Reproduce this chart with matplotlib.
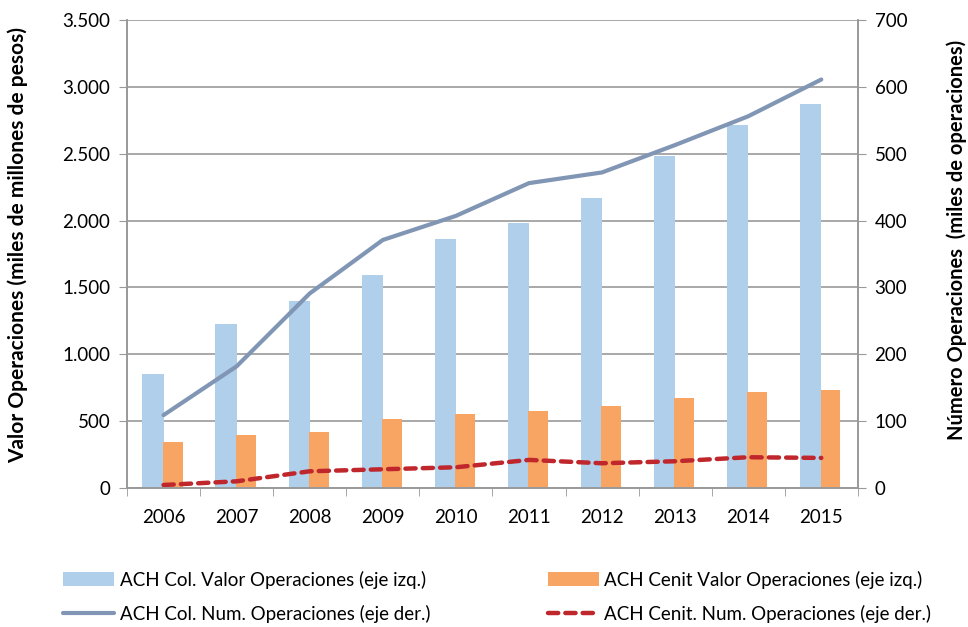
import matplotlib.pyplot as plt
import matplotlib.ticker as mticker
import numpy as np

plt.rcParams["font.family"] = ["Lato", "DejaVu Sans"]

years = ["2006", "2007", "2008", "2009", "2010", "2011", "2012", "2013", "2014", "2015"]
col_valor = [850, 1225, 1400, 1590, 1865, 1980, 2167, 2481, 2713, 2870]
cenit_valor = [344, 396, 419, 516, 553, 575, 613, 673, 717, 732]
col_num = [109, 182, 291, 371, 407, 456, 472, 513, 556, 611]
cenit_num = [4.5, 10, 25, 28, 31, 42, 37, 40, 46, 45]

blue = "#afcfea"
orange = "#f8a462"
grey_line = "#8196b4"
red = "#c0272d"
grid_c = "#999999"


def thousands(v, pos):
    return f"{int(v):,}".replace(",", ".")


fig = plt.figure(figsize=(9.68, 6.27), dpi=100)
ax = fig.add_axes([0.1312, 0.2217, 0.7550, 0.7464])
ax2 = ax.twinx()

x = np.arange(len(years))
w = 0.29
b1 = ax.bar(x - w / 2, col_valor, width=w, color=blue, zorder=2)
b2 = ax.bar(x + w / 2 - 0.02, cenit_valor, width=w - 0.02, color=orange, zorder=2)

l1, = ax2.plot(x, col_num, color=grey_line, lw=3, solid_capstyle="round")
l2, = ax2.plot(x, cenit_num, color=red, lw=3.2, ls=(0, (2.3, 1.6)),
               dash_capstyle="round")

ax.set_xlim(-0.5, len(years) - 0.5)
ax.set_ylim(0, 3500)
ax2.set_ylim(0, 700)
ax.set_yticks(np.arange(0, 3501, 500))
ax2.set_yticks(np.arange(0, 701, 100))
ax.yaxis.set_major_formatter(mticker.FuncFormatter(thousands))

ax.set_xticks(x)
ax.set_xticklabels(years)
ax.set_xticks(np.arange(-0.5, len(years), 1), minor=True)
ax.tick_params(axis="x", which="major", length=0, labelsize=13.5, pad=15)
ax.tick_params(axis="x", which="minor", length=6, color=grid_c, direction="out")
ax.tick_params(axis="y", length=6, color=grid_c, labelsize=13.5, pad=6)
ax2.tick_params(axis="y", length=6, color=grid_c, labelsize=13.5, pad=6)

ax.grid(axis="y", color=grid_c, lw=1.2, zorder=0)
ax.set_axisbelow(True)
for a in (ax, ax2):
    a.spines["top"].set_visible(False)
    for s in ("left", "right", "bottom"):
        a.spines[s].set_color(grid_c)
        a.spines[s].set_linewidth(1.2)

fig.text(18 / 968, 1 - 245 / 627, "Valor Operaciones (miles de millones de pesos)",
         rotation=90, ha="center", va="center", fontsize=15, fontweight="bold")
fig.text(957 / 968, 1 - 240 / 627, "Número Operaciones  (miles de operaciones)",
         rotation=90, ha="center", va="center", fontsize=14.5, fontweight="bold")

handles = [b1, l1, b2, l2]
labels = ["ACH Col. Valor Operaciones (eje izq.)",
          "ACH Col. Num. Operaciones (eje der.)",
          "ACH Cenit Valor Operaciones (eje izq.)",
          "ACH Cenit. Num. Operaciones (eje der.)"]
fig.legend(handles, labels, ncol=2, loc="upper left", bbox_to_anchor=(0.048, 0.117),
           frameon=False, fontsize=13.5, handlelength=2.7, handleheight=0.8,
           columnspacing=6.3, labelspacing=0.85, handletextpad=0.3)

fig.savefig("out.png", dpi=100)
